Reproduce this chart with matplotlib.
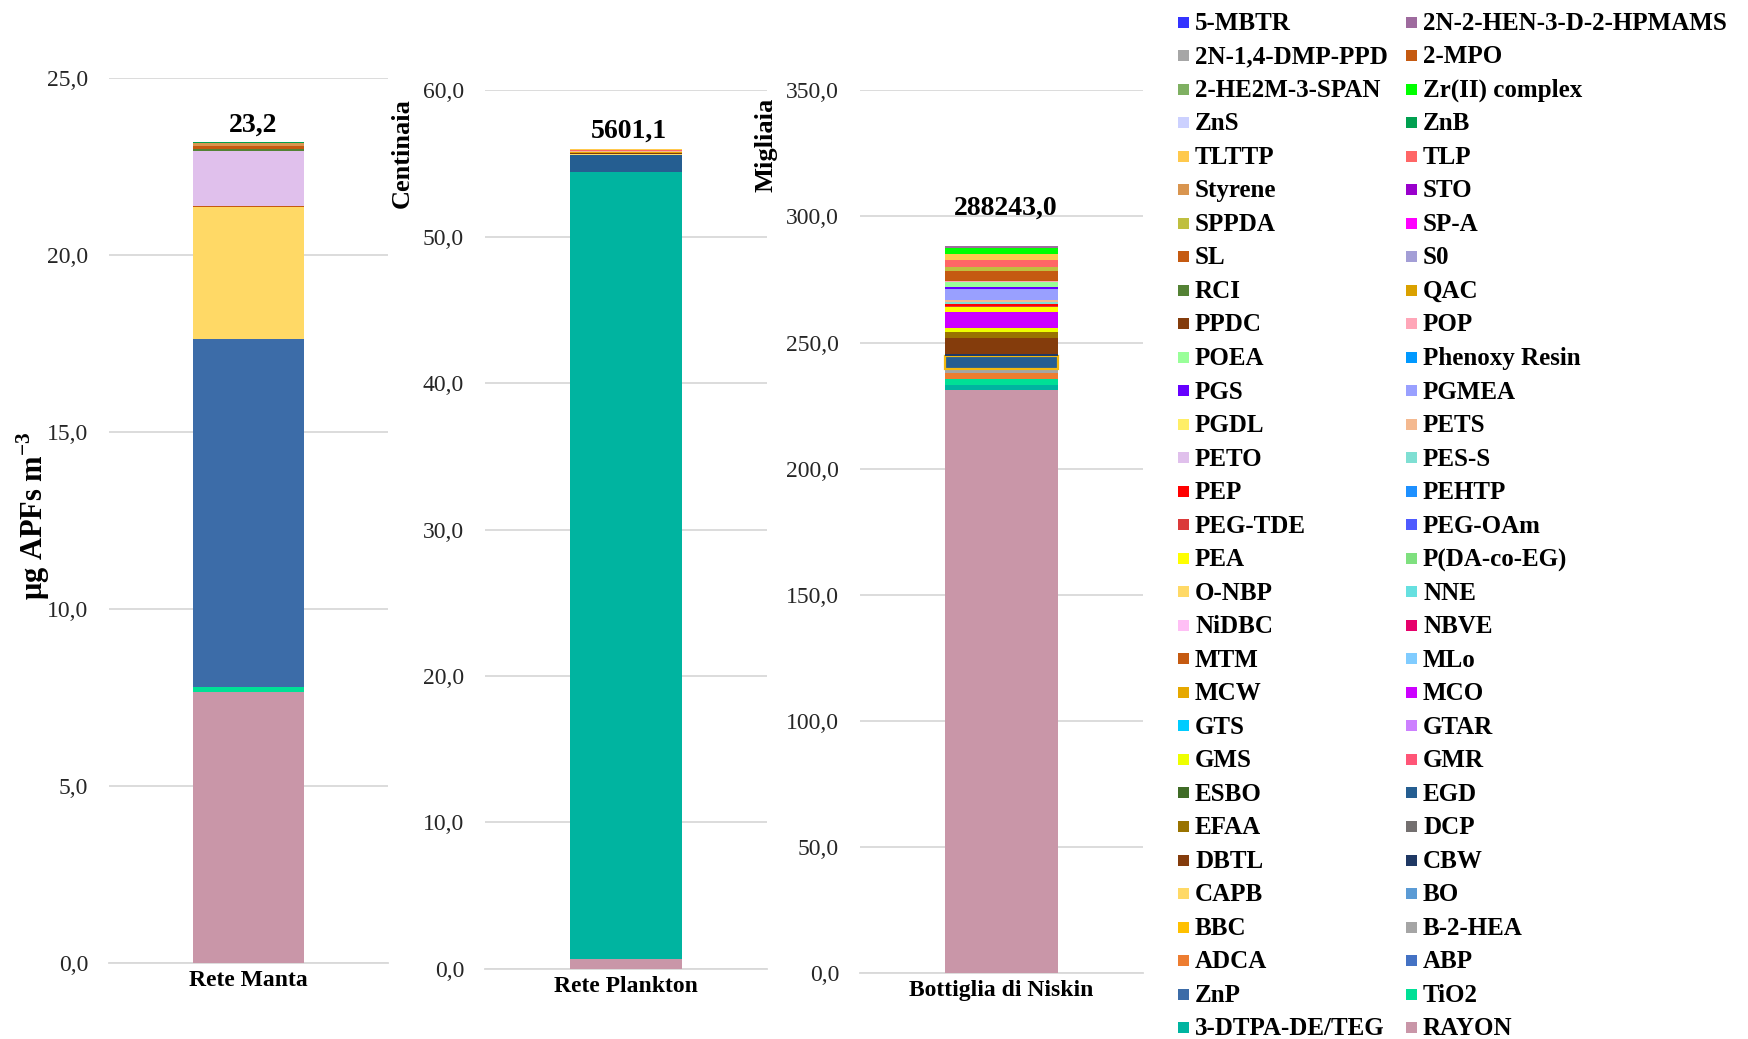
import matplotlib
matplotlib.use("Agg")
import matplotlib.pyplot as plt
from matplotlib.patches import Rectangle
from matplotlib.ticker import FuncFormatter, MultipleLocator

W, H = 1748, 1039
plt.rcParams["font.family"] = ["Liberation Serif", "DejaVu Serif"]
plt.rcParams["mathtext.fontset"] = "custom"
plt.rcParams["mathtext.rm"] = "Liberation Serif"
plt.rcParams["mathtext.bf"] = "Liberation Serif:bold"

# Series, bottom of the stack first
compounds = [
    "RAYON", "3-DTPA-DE/TEG", "TiO2", "ZnP", "ABP", "ADCA", "B-2-HEA", "BBC",
    "BO", "CAPB", "CBW", "DBTL", "DCP", "EFAA", "EGD", "ESBO", "GMR", "GMS",
    "GTAR", "GTS", "MCO", "MCW", "MLo", "MTM", "NBVE", "NiDBC", "NNE", "O-NBP",
    "P(DA-co-EG)", "PEA", "PEG-OAm", "PEG-TDE", "PEHTP", "PEP", "PES-S", "PETO",
    "PETS", "PGDL", "PGMEA", "PGS", "Phenoxy Resin", "POEA", "POP", "PPDC",
    "QAC", "RCI", "S0", "SL", "SP-A", "SPPDA", "STO", "Styrene", "TLP", "TLTTP",
    "ZnB", "ZnS", "Zr(II) complex", "2-HE2M-3-SPAN", "2-MPO", "2N-1,4-DMP-PPD",
    "2N-2-HEN-3-D-2-HPMAMS", "5-MBTR",
]

colors = {
    "RAYON": "#C996A8", "3-DTPA-DE/TEG": "#00B4A0", "TiO2": "#00E096",
    "ZnP": "#3C6CA8", "ABP": "#4472C4", "ADCA": "#ED7D31", "B-2-HEA": "#A5A5A5",
    "BBC": "#FFC000", "BO": "#5B9BD5", "CAPB": "#FFD966", "CBW": "#1F3864",
    "DBTL": "#843C0C", "DCP": "#747070", "EFAA": "#997300", "EGD": "#255E91",
    "ESBO": "#3F6B26", "GMR": "#FF5577", "GMS": "#EEFF00", "GTAR": "#CC80FF",
    "GTS": "#00CCFF", "MCO": "#CC00FF", "MCW": "#E6A800", "MLo": "#80CCFF",
    "MTM": "#C55A11", "NBVE": "#E6006B", "NiDBC": "#FFBFF5", "NNE": "#66E0E0",
    "O-NBP": "#FFD966", "P(DA-co-EG)": "#7FE07F", "PEA": "#FFFF00",
    "PEG-OAm": "#4F5BFF", "PEG-TDE": "#DB3A3A", "PEHTP": "#1E90FF",
    "PEP": "#FF0000", "PES-S": "#7FDFD3", "PETO": "#E0C0EC", "PETS": "#F4B990",
    "PGDL": "#FFEE66", "PGMEA": "#99A0FF", "PGS": "#6600FF",
    "Phenoxy Resin": "#0099FF", "POEA": "#99FF99", "POP": "#FFA6B8",
    "PPDC": "#843C0C", "QAC": "#DAA100", "RCI": "#548235", "S0": "#A39ED6",
    "SL": "#C55A11", "SP-A": "#FF00FF", "SPPDA": "#BFBF40", "STO": "#9900CC",
    "Styrene": "#D9954F", "TLP": "#FF6666", "TLTTP": "#FFC94D", "ZnB": "#00A050",
    "ZnS": "#CCD1FF", "Zr(II) complex": "#00FF00", "2-HE2M-3-SPAN": "#7FB062",
    "2-MPO": "#C55A11", "2N-1,4-DMP-PPD": "#A6A6A6",
    "2N-2-HEN-3-D-2-HPMAMS": "#9E6B9E", "5-MBTR": "#3333FF",
}

samples = ["Rete Manta", "Rete Plankton", "Bottiglia di Niskin"]

# µg APFs m-3
rete_manta = {
    "RAYON": 7.65, "TiO2": 0.15, "ZnP": 9.83, "CAPB": 3.72, "MTM": 0.04,
    "PETO": 1.56, "RCI": 0.05, "SL": 0.08, "Styrene": 0.07, "ZnB": 0.03,
    "5-MBTR": 0.02,
}
# hundreds of µg APFs m-3
rete_plankton = {
    "RAYON": 0.65, "3-DTPA-DE/TEG": 53.80, "EGD": 1.10, "CAPB": 0.10,
    "DBTL": 0.05, "MCW": 0.08, "PETS": 0.06, "TLP": 0.06, "TLTTP": 0.06,
    "2N-1,4-DMP-PPD": 0.051,
}
# thousands of µg APFs m-3
bottiglia_niskin = {
    "RAYON": 231.2, "3-DTPA-DE/TEG": 2.0, "TiO2": 2.3, "ADCA": 2.4,
    "B-2-HEA": 1.6, "EGD": 5.2, "CBW": 0.8, "DBTL": 6.2, "EFAA": 2.3,
    "GMS": 1.7, "MCO": 6.6, "PEA": 1.6, "PEG-TDE": 0.6, "PEP": 0.8,
    "PES-S": 0.7, "PETS": 0.7, "PGMEA": 4.7, "PGS": 0.6, "POEA": 2.2,
    "POP": 0.4, "SL": 3.6, "SPPDA": 1.7, "TLP": 2.9, "TLTTP": 2.4,
    "Zr(II) complex": 2.2, "2N-2-HEN-3-D-2-HPMAMS": 0.843,
}

sample_values = [rete_manta, rete_plankton, bottiglia_niskin]
unit_factor = [1, 100, 1000]
unit_titles = [None, "Centinaia", "Migliaia"]
y_max = [25, 60, 350]
y_step = [5, 10, 50]

# drawing order: the EGD series sits just above B-2-HEA in the stack
stack_order = list(compounds)
stack_order.remove("EGD")
stack_order.insert(stack_order.index("B-2-HEA") + 1, "EGD")
outlined = {("Bottiglia di Niskin", "EGD"): "#F2B90F"}

# panel boxes in pixels: left, top, right, bottom
boxes = [(109, 78, 388, 963), (485, 90.3, 767, 968.8), (860, 90.3, 1143, 973.2)]
total_gap_px = [10, 11, 31]
total_shift_px = [5, 3, 4]

fig = plt.figure(figsize=(W / 100, H / 100), dpi=100)
fig.patch.set_facecolor("white")

grid_col = "#D9D9D9"
comma_fmt = FuncFormatter(lambda v, _: f"{v:.1f}".replace(".", ","))

for i, sample in enumerate(samples):
    l, t, r, b = boxes[i]
    ax = fig.add_axes([l / W, 1 - b / H, (r - l) / W, (b - t) / H])
    vals = sample_values[i]
    base = 0.0
    for name in stack_order:
        v = vals.get(name, 0.0)
        if v <= 0:
            continue
        ec = outlined.get((sample, name))
        ax.bar(0, v, width=0.4, bottom=base, color=colors[name],
               edgecolor=ec if ec else "none", linewidth=1.6 if ec else 0,
               zorder=3)
        base += v
    total = sum(vals.values())
    label = f"{total * unit_factor[i]:.1f}".replace(".", ",")
    ax.annotate(label, xy=(0, total),
                xytext=(total_shift_px[i] * 0.72, total_gap_px[i] * 0.72),
                textcoords="offset points", ha="center", va="baseline",
                fontsize=20, fontweight="bold", color="black", zorder=5)

    ax.set_xlim(-0.5, 0.5)
    ax.set_ylim(0, y_max[i])
    ax.yaxis.set_major_locator(MultipleLocator(y_step[i]))
    ax.yaxis.set_major_formatter(comma_fmt)
    ax.set_xticks([0])
    ax.set_xticklabels([sample], fontsize=17, fontweight="bold")
    ax.tick_params(axis="x", length=0, pad=5)
    ax.tick_params(axis="y", length=0, pad=15, labelsize=17, labelcolor="#262626")
    ax.set_axisbelow(True)
    ax.yaxis.grid(True, color=grid_col, linewidth=1.3)
    for side in ("top", "right", "left"):
        ax.spines[side].set_visible(False)
    ax.spines["bottom"].set_color(grid_col)
    ax.spines["bottom"].set_linewidth(1.3)
    ax.patch.set_alpha(0)

# axis titles
fig.text(33 / W, 1 - 516 / H, r"μg APFs m$^{\mathbf{-3}}$", rotation=90,
         ha="center", va="center", fontsize=22, fontweight="bold")
fig.text(402 / W, 1 - 153 / H, unit_titles[1], rotation=90,
         ha="center", va="center", fontsize=19, fontweight="bold")
fig.text(766 / W, 1 - 145 / H, unit_titles[2], rotation=90,
         ha="center", va="center", fontsize=19, fontweight="bold")

# legend: two columns, top series first, filled row by row
legend_names = compounds[::-1]
row0, pitch = 22.0, 33.52
mark_x = [1178, 1406]
text_x = [1195, 1423]
for k, name in enumerate(legend_names):
    row, col = divmod(k, 2)
    yc = row0 + row * pitch
    fig.patches.append(Rectangle((mark_x[col] / W, 1 - (yc + 5.5) / H),
                                 11 / W, 11 / H, transform=fig.transFigure,
                                 facecolor=colors[name], edgecolor="none"))
    fig.text(text_x[col] / W, 1 - (yc + 7.8) / H, name, ha="left",
             va="baseline", fontsize=18, fontweight="bold", color="black")

fig.savefig("out.png", dpi=100, facecolor="white")
